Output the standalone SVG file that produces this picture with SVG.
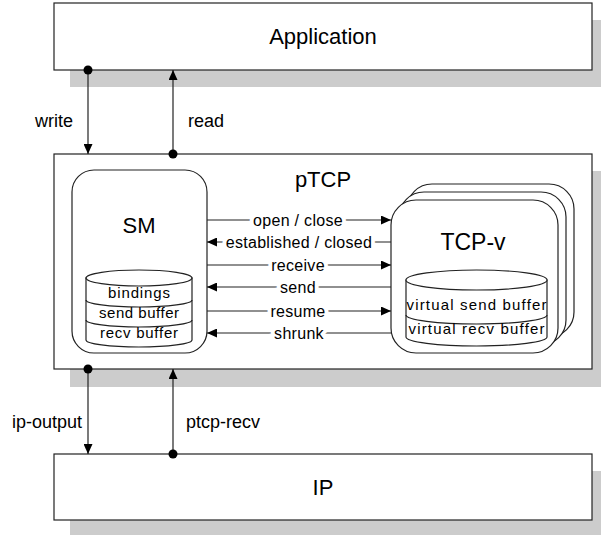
<svg xmlns="http://www.w3.org/2000/svg" width="601" height="535" viewBox="0 0 601 535">
<style>
text{font-family:"Liberation Sans",Arial,sans-serif;fill:#000}
.box{fill:#fff;stroke:#222;stroke-width:1.2}
.shadow{fill:#ccc}
.title{font-size:22px;text-anchor:middle}
.lbl{font-size:18px}
.clbl{font-size:16px;text-anchor:middle;stroke:#fff;stroke-width:8;paint-order:stroke;letter-spacing:0.3px}
.cyl{fill:#fff;stroke:#222;stroke-width:1.2}
.ctext{font-size:15px;text-anchor:middle}
.conn{stroke:#222;stroke-width:1.2;fill:none}
</style>
<defs>
<marker id="arrow" markerUnits="userSpaceOnUse" markerWidth="10" markerHeight="9" refX="10" refY="4.5" orient="auto">
<path d="M0,0 L10,4.5 L0,9 z" fill="#000"/>
</marker>
<marker id="dot" markerUnits="userSpaceOnUse" markerWidth="10" markerHeight="10" refX="5" refY="5">
<circle cx="5" cy="5" r="4.5" fill="#000"/>
</marker>
</defs>

<g id="application">
<rect class="shadow" x="70" y="20" width="538" height="67"/>
<rect class="box" x="54" y="3" width="538" height="67"/>
<text class="title" x="323" y="44">Application</text>
</g>

<g id="ptcp">
<rect class="shadow" x="70" y="171" width="538" height="216"/>
<rect class="box" x="54" y="154" width="538" height="215"/>
<text class="title" x="323" y="187">pTCP</text>
</g>

<g id="ip">
<rect class="shadow" x="70" y="471" width="538" height="67"/>
<rect class="box" x="54" y="454" width="538" height="66"/>
<text class="title" x="323" y="495">IP</text>
</g>

<g id="sm">
<rect class="box" x="72" y="170" width="135" height="183" rx="22"/>
<text class="title" x="139" y="233">SM</text>
<path class="cyl" d="M86,278 L86,340 A53,7 0 0 0 192,340 L192,278 Z"/>
<ellipse class="cyl" cx="139" cy="278" rx="53" ry="8"/>
<path class="conn" d="M86,300 A53,7 0 0 0 192,300 M86,320 A53,7 0 0 0 192,320"/>
<text class="ctext" x="139" y="298" textLength="62" lengthAdjust="spacing">bindings</text>
<text class="ctext" x="139" y="318" textLength="80" lengthAdjust="spacing">send buffer</text>
<text class="ctext" x="139" y="338" textLength="78" lengthAdjust="spacing">recv buffer</text>
</g>

<g id="tcp-v">
<rect class="box" x="407" y="184" width="167" height="153" rx="25"/>
<rect class="box" x="399" y="192" width="167" height="153" rx="25"/>
<rect class="box" x="391" y="200" width="167" height="153" rx="25"/>
<text class="title" x="473" y="250" style="font-size:23px">TCP-v</text>
<path class="cyl" d="M406,280 L406,337 A70.5,9 0 0 0 547,337 L547,280 Z"/>
<ellipse class="cyl" cx="476.5" cy="280" rx="70.5" ry="10"/>
<path class="conn" d="M406,315 A70.5,9 0 0 0 547,315"/>
<text class="ctext" x="476.5" y="310" textLength="140" lengthAdjust="spacing">virtual send buffer</text>
<text class="ctext" x="476.5" y="334" textLength="136" lengthAdjust="spacing">virtual recv buffer</text>
</g>

<g id="connectors">
<line class="conn" x1="88" y1="70" x2="88" y2="154" marker-start="url(#dot)" marker-end="url(#arrow)"/>
<line class="conn" x1="173" y1="154" x2="173" y2="70" marker-start="url(#dot)" marker-end="url(#arrow)"/>
<line class="conn" x1="88" y1="369" x2="88" y2="454" marker-start="url(#dot)" marker-end="url(#arrow)"/>
<line class="conn" x1="173" y1="454" x2="173" y2="369" marker-start="url(#dot)" marker-end="url(#arrow)"/>
<text class="lbl" x="73" y="127" text-anchor="end">write</text>
<text class="lbl" x="188" y="127">read</text>
<text class="lbl" x="82" y="428" text-anchor="end">ip-output</text>
<text class="lbl" x="186" y="428">ptcp-recv</text>

<line class="conn" x1="207" y1="220" x2="391" y2="220" marker-end="url(#arrow)"/>
<line class="conn" x1="391" y1="242" x2="207" y2="242" marker-end="url(#arrow)"/>
<line class="conn" x1="207" y1="265" x2="391" y2="265" marker-end="url(#arrow)"/>
<line class="conn" x1="391" y1="287" x2="207" y2="287" marker-end="url(#arrow)"/>
<line class="conn" x1="207" y1="311" x2="391" y2="311" marker-end="url(#arrow)"/>
<line class="conn" x1="391" y1="333" x2="207" y2="333" marker-end="url(#arrow)"/>
<text class="clbl" x="298" y="226">open / close</text>
<text class="clbl" x="299" y="248">established / closed</text>
<text class="clbl" x="298" y="271">receive</text>
<text class="clbl" x="298" y="293">send</text>
<text class="clbl" x="298" y="317">resume</text>
<text class="clbl" x="299" y="339">shrunk</text>
</g>
</svg>
